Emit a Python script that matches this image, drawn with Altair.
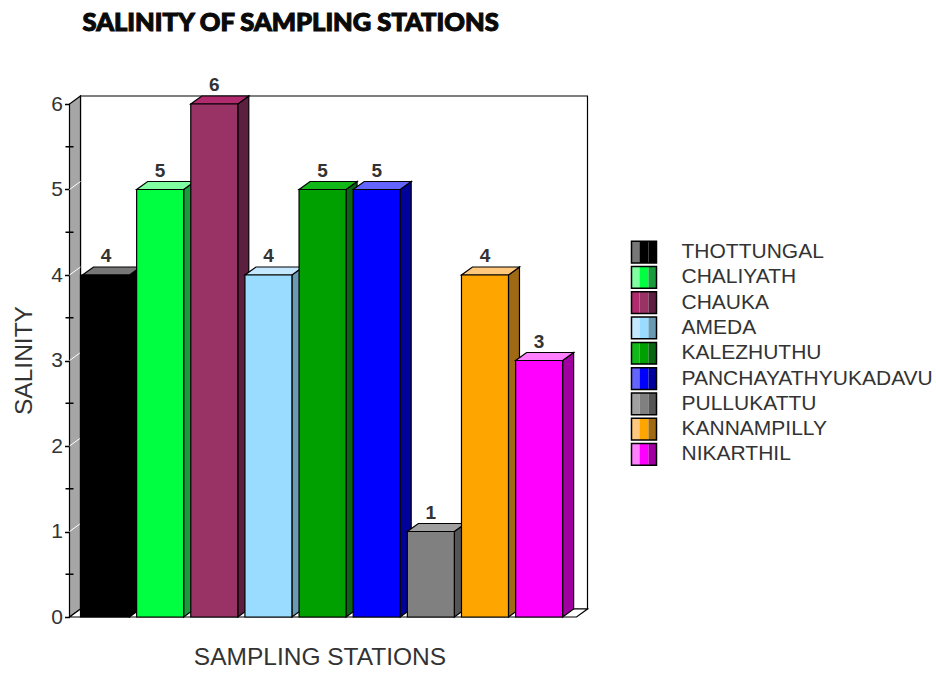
import altair as alt
import pandas as pd

CHART_TITLE = "SALINITY OF SAMPLING STATIONS"
STATIONS = ["THOTTUNGAL", "CHALIYATH", "CHAUKA", "AMEDA", "KALEZHUTHU",
            "PANCHAYATHYUKADAVU", "PULLUKATTU", "KANNAMPILLY", "NIKARTHIL"]
SALINITY = [4, 5, 6, 4, 5, 5, 1, 4, 3]
FRONT = ["#000000", "#00ff40", "#993366", "#99dcff", "#00a000",
         "#0000ff", "#808080", "#ffa500", "#ff00ff"]
SIDE = ["#000000", "#1a9a3c", "#5c1f40", "#6a9ab2", "#0b6414",
        "#00009a", "#555555", "#a06a14", "#a000a0"]
TOP = ["#777777", "#80ffa0", "#b02a6e", "#c4e8ff", "#12b818",
       "#6464ff", "#a0a0a0", "#ffc87c", "#ff80ff"]
Y_TICKS = [0, 1, 2, 3, 4, 5, 6]
Y_MINOR = [0.5, 1.5, 2.5, 3.5, 4.5, 5.5]

# Pseudo-3D box geometry, expressed in axis units
SLOT_PX = 54.14
UNIT_PX = 85.5
PLOT_W = 518
PLOT_H = 521
DX = 11 / SLOT_PX
DY = 8 / UNIT_PX
BAR_W = 47 / SLOT_PX
FIRST_LEFT = 13 / SLOT_PX
X_MAX = PLOT_W / SLOT_PX
Y_MAX = 6 + DY

x_scale = alt.Scale(domain=[0, X_MAX], nice=False, zero=False)
y_scale = alt.Scale(domain=[0, Y_MAX], nice=False, zero=False)
FONT = "Liberation Sans"
INK = "#333333"

bars, sides, tops = [], [], []
for i, (name, v) in enumerate(zip(STATIONS, SALINITY)):
    left = FIRST_LEFT + i
    right = left + BAR_W
    # the first box sits flush against the side wall
    bars.append({"s": name, "x": DX if i == 0 else left, "x2": right, "y": 0, "y2": v,
                 "cx": left + BAR_W / 2, "ly": v + DY, "v": v})
    sides += [{"s": name, "x": right, "y": 0, "y2": v},
              {"s": name, "x": right + DX, "y": DY, "y2": v + DY}]
    tops += [{"s": name, "x": left, "y": v, "y2": v},
             {"s": name, "x": left + DX, "y": v, "y2": v + DY},
             {"s": name, "x": right, "y": v, "y2": v + DY},
             {"s": name, "x": right + DX, "y": v + DY, "y2": v + DY}]
bars, sides, tops = map(pd.DataFrame, (bars, sides, tops))

wall = pd.DataFrame([{"x": 0, "y": 0, "y2": 6}, {"x": DX, "y": DY, "y2": 6 + DY}])
floor = pd.DataFrame([{"x": 0, "y": 0, "y2": 0}, {"x": DX, "y": 0, "y2": DY},
                      {"x": X_MAX - DX, "y": 0, "y2": DY}, {"x": X_MAX, "y": DY, "y2": DY}])
back = pd.DataFrame([{"x": DX, "x2": X_MAX, "y": DY, "y2": Y_MAX}])
grid = pd.DataFrame([{"t": t, "x": dx, "y": t + dy}
                     for t in Y_TICKS[1:-1] for dx, dy in ((0, 0), (DX, DY))])
minor = pd.DataFrame({"y": Y_MINOR, "x": -4 / SLOT_PX, "x2": 4 / SLOT_PX})

X = alt.X("x:Q", scale=x_scale,
          axis=alt.Axis(title="SAMPLING STATIONS", domain=False, ticks=False, labels=False,
                        grid=False, titleX=250, titleY=40, titleFont=FONT, titleFontSize=24.5,
                        titleFontWeight="normal", titleColor=INK, titleBaseline="middle"))
Y = alt.Y("y:Q", scale=y_scale,
          axis=alt.Axis(title="SALINITY", values=Y_TICKS, format="d", domain=False, grid=False,
                        tickColor="#000000", tickWidth=1.5, tickSize=5, labelFont=FONT,
                        labelFontSize=21, labelColor=INK, labelPadding=2,
                        titleX=-33, titleY=264, titleFont=FONT, titleFontSize=24.5,
                        titleFontWeight="normal", titleColor=INK))
Y2 = alt.Y2("y2:Q")
STROKE = dict(stroke="#000000", strokeWidth=1.2)


def face(df, colors):
    return alt.Chart(df).mark_area(orient="vertical", **STROKE).encode(
        x=alt.X("x:Q", scale=x_scale), y=alt.Y("y:Q", scale=y_scale), y2=Y2, detail="s:N",
        color=alt.Color("s:N", scale=alt.Scale(domain=STATIONS, range=colors), legend=None))


base = alt.layer(
    alt.Chart(back).mark_rect(fill="#ffffff", **STROKE).encode(x=X, x2="x2:Q", y=Y, y2=Y2),
    alt.Chart(wall).mark_area(orient="vertical", fill="#a6a6a6", **STROKE).encode(
        x=alt.X("x:Q", scale=x_scale), y=alt.Y("y:Q", scale=y_scale), y2=Y2),
    alt.Chart(floor).mark_area(orient="vertical", fill="#ffffff", **STROKE).encode(
        x=alt.X("x:Q", scale=x_scale), y=alt.Y("y:Q", scale=y_scale), y2=Y2),
    alt.Chart(grid).mark_line(color="#ffffff", strokeWidth=1).encode(
        x=alt.X("x:Q", scale=x_scale), y=alt.Y("y:Q", scale=y_scale), detail="t:N"),
    alt.Chart(minor).mark_rule(color="#000000", strokeWidth=1.5).encode(
        x=alt.X("x:Q", scale=x_scale), x2="x2:Q", y=alt.Y("y:Q", scale=y_scale)),
)

side_faces = face(sides, SIDE)
top_faces = face(tops, TOP)
front_faces = alt.Chart(bars).mark_rect(**STROKE).encode(
    x=alt.X("x:Q", scale=x_scale), x2="x2:Q", y=alt.Y("y:Q", scale=y_scale), y2=Y2,
    color=alt.Color("s:N", scale=alt.Scale(domain=STATIONS, range=FRONT), legend=None))
value_labels = alt.Chart(bars).mark_text(
    font=FONT, fontSize=19, fontWeight="bold", color=INK, baseline="bottom", dy=-1
).encode(x=alt.X("cx:Q", scale=x_scale), y=alt.Y("ly:Q", scale=y_scale), text="v:Q")

# Heavy headline: a stroked text mark thickens the glyphs beyond the font's own black weight
headline = alt.Chart(pd.DataFrame({"t": [CHART_TITLE]})).mark_text(
    font="Lato", fontSize=25.5, fontWeight=900, color="#0a0a0a", stroke="#0a0a0a",
    strokeWidth=1.1, align="left", baseline="middle"
).encode(x=alt.value(13), y=alt.value(-73), text="t:N")

main = alt.layer(base, side_faces, top_faces, front_faces, value_labels, headline).resolve_scale(
    color="independent").properties(width=PLOT_W, height=PLOT_H)

# Key panel: a three-tone swatch and a name for every station
KEY_W = 300
lx = alt.Scale(domain=[0, KEY_W], nice=False, zero=False)
ly = alt.Scale(domain=STATIONS, range=[143.5, 371], paddingInner=0.14, paddingOuter=0.07)
LY = alt.Y("s:N", scale=ly, sort=STATIONS, axis=None)


def swatch(lo, hi, colors):
    df = pd.DataFrame({"s": STATIONS, "a": lo, "b": hi})
    return alt.Chart(df).mark_rect().encode(
        x=alt.X("a:Q", scale=lx, axis=None), x2="b:Q", y=LY,
        color=alt.Color("s:N", scale=alt.Scale(domain=STATIONS, range=colors), legend=None))


outline = pd.DataFrame({"s": STATIONS, "a": 0, "b": 25})
key_names = pd.DataFrame({"s": STATIONS, "a": 50})
key = alt.layer(
    swatch(0, 8, TOP), swatch(8, 17, FRONT), swatch(17, 25, SIDE),
    alt.Chart(outline).mark_rect(fillOpacity=0, stroke="#000000", strokeWidth=1.5).encode(
        x=alt.X("a:Q", scale=lx, axis=None), x2="b:Q", y=LY),
    alt.Chart(key_names).mark_text(font=FONT, fontSize=21, color=INK, align="left").encode(
        x=alt.X("a:Q", scale=lx, axis=None), y=LY, text="s:N"),
).resolve_scale(color="independent").properties(width=KEY_W, height=PLOT_H)

chart = alt.hconcat(main, key, spacing=40).resolve_scale(color="independent").properties(
    padding={"left": 11.5, "top": 11, "right": 0, "bottom": 0},
    background="#ffffff",
).configure_view(stroke=None)

chart.save("out.html", embed_options={"renderer": "svg", "actions": False})
